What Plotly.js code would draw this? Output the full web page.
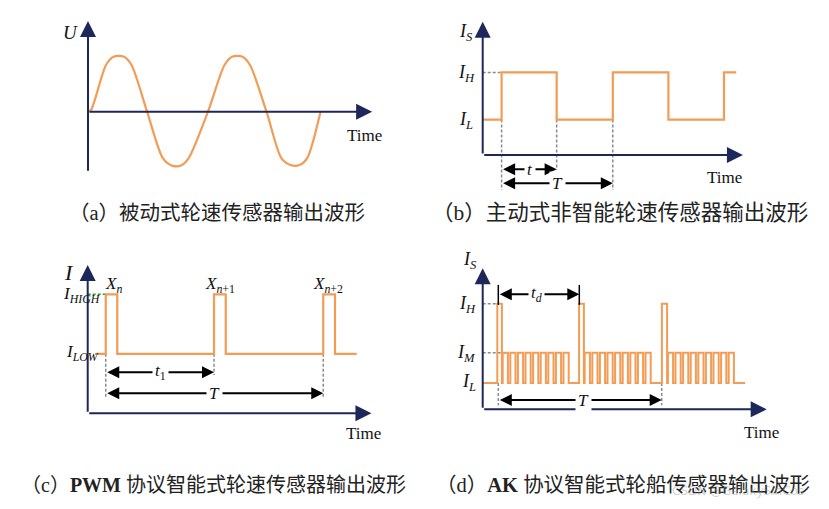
<!DOCTYPE html>
<html><head><meta charset="utf-8">
<script src="https://cdn.plot.ly/plotly-3.0.1.min.js"></script>
<style>html,body{margin:0;padding:0;background:#fff}</style>
</head><body><div id="chart" style="width:829px;height:509px"></div>
<script>
// ---------- data ----------
// (a) passive sensor voltage, read at key points
const aTime = [0,0.1,0.6,0.85,1.2,1.45,1.97,2.5,2.8,3.1,3.35,4.0,4.55,4.8,5.15,5.4,5.95,6.45,6.75,7.05,7.3,7.75];
const aVolt = [0,0.03,0.85,1.0,1.0,0.85,0,-0.85,-0.98,-0.98,-0.85,0,0.85,1.0,1.0,0.85,0,-0.85,-0.97,-0.97,-0.85,0];
// (b) active non-smart sensor, square wave edges (mA levels)
const bTime = [0,0.34,1.33,2.34,3.34,4.34,4.56];
const bLevel = [3,7,3,7,3,7,7];
// (c) PWM protocol sensor
const cTime = [0.67,1.66,2.72,11.62,12.7,21.67,22.75,24.75];
const cLevel = [7,14,7,14,7,14,7,7];
// (d) AK protocol sensor
const dTime = [0,3.65,4.8,5.0,6.3,6.9,8.2,8.8,10.1,10.7,12.0,12.6,13.9,14.5,15.8,16.4,17.7,18.3,19.6,20.2,21.5,
  24.1,25.3,25.5,26.8,27.4,28.7,29.3,30.6,31.2,32.5,33.1,34.4,35.0,36.3,36.9,38.2,38.8,40.1,40.7,42.0,
  44.8,46.1,46.3,47.6,48.2,49.5,50.1,51.4,52.0,53.3,53.9,55.2,55.8,57.1,57.7,59.0,59.6,60.9,61.5,62.8,65.6];
const dLevel = [7,28,7,15,7,15,7,15,7,15,7,15,7,15,7,15,7,15,7,15,7,
  28,7,15,7,15,7,15,7,15,7,15,7,15,7,15,7,15,7,15,7,
  28,7,15,7,15,7,15,7,15,7,15,7,15,7,15,7,15,7,15,7,7];
const captions = ['（a）被动式轮速传感器输出波形','（b）主动式非智能轮速传感器输出波形',
  '（c）<b>PWM</b> 协议智能式轮速传感器输出波形','（d）<b>AK</b> 协议智能式轮船传感器输出波形'];

// ---------- layout helpers ----------
const W=829,H=509;
const NAVY='#1d2759', ORANGE='#f29c55', GRAY='#8a8a8a';
const SERIF='Liberation Serif, Times New Roman, serif';
const CAPF='Liberation Serif, Noto Sans CJK SC, serif';
const panels = {
  a:{X0:88,Y0:111.7,sx:30,sy:55,left:40,right:410,top:5,bottom:195},
  b:{X0:482.7,Y0:155,sx:55.6,sy:11.8,left:430,right:800,top:5,bottom:200},
  c:{X0:87.7,Y0:413.3,sx:10.87,sy:8.5,left:40,right:410,top:250,bottom:450},
  d:{X0:482.7,Y0:409.3,sx:4,sy:3.77,left:430,right:800,top:250,bottom:450}
};
const ids = {a:['x','y'],b:['x2','y2'],c:['x3','y3'],d:['x4','y4']};
const layout = {width:W,height:H,margin:{l:0,r:0,t:0,b:0},showlegend:false,
  paper_bgcolor:'#fff',plot_bgcolor:'rgba(0,0,0,0)',annotations:[],shapes:[]};
Object.keys(panels).forEach((k,i)=>{
  const p=panels[k], n=i===0?'':String(i+1);
  layout['xaxis'+n]={domain:[p.left/W,p.right/W],range:[(p.left-p.X0)/p.sx,(p.right-p.X0)/p.sx],visible:false,fixedrange:true,anchor:'y'+n};
  layout['yaxis'+n]={domain:[1-p.bottom/H,1-p.top/H],range:[(p.Y0-p.bottom)/p.sy,(p.Y0-p.top)/p.sy],visible:false,fixedrange:true,anchor:'x'+n};
});
const A=layout.annotations, S=layout.shapes;
function arrow(k,x,y,ax,ay,color,w,size,both){
  const [xr,yr]=ids[k];
  A.push({xref:xr,yref:yr,axref:xr,ayref:yr,x:x,y:y,ax:ax,ay:ay,text:'',showarrow:true,
    arrowhead:2,arrowsize:size,arrowwidth:w,arrowcolor:color,standoff:0,startstandoff:0,
    arrowside:both?'end+start':'end',startarrowhead:2,startarrowsize:size});
}
function dash(k,x0,y0,x1,y1,color){
  const [xr,yr]=ids[k];
  S.push({type:'line',xref:xr,yref:yr,x0:x0,y0:y0,x1:x1,y1:y1,line:{color:color||GRAY,width:1.5,dash:'3px,2px'},layer:'below'});
}
function solid(k,x0,y0,x1,y1){
  const [xr,yr]=ids[k];
  S.push({type:'line',xref:xr,yref:yr,x0:x0,y0:y0,x1:x1,y1:y1,line:{color:'#000',width:1.5}});
}
function label(xpx,ypx,text,size,opt){
  A.push(Object.assign({xref:'paper',yref:'paper',x:xpx/W,y:1-ypx/H,text:text,showarrow:false,
    xanchor:'center',yanchor:'middle',font:{family:SERIF,size:size,color:'#111'}},opt||{}));
}
function dimLabel(xpx,ypx,text,size){
  label(xpx,ypx,text,size,{bgcolor:'#fff',borderpad:2});
}

// ---------- traces ----------
const traces=[
  {x:aTime,y:aVolt,xaxis:'x',yaxis:'y',mode:'lines',line:{color:ORANGE,width:2.2,shape:'spline',smoothing:0.8},hoverinfo:'skip'},
  {x:bTime,y:bLevel,xaxis:'x2',yaxis:'y2',mode:'lines',line:{color:ORANGE,width:2.2,shape:'hv'},hoverinfo:'skip'},
  {x:cTime,y:cLevel,xaxis:'x3',yaxis:'y3',mode:'lines',line:{color:ORANGE,width:2.2,shape:'hv'},hoverinfo:'skip'},
  {x:dTime,y:dLevel,xaxis:'x4',yaxis:'y4',mode:'lines',line:{color:ORANGE,width:2,shape:'hv'},hoverinfo:'skip'}
];

// ---------- (a) ----------
arrow('a',0,1.65,0,-1.1,NAVY,2,1.6);
arrow('a',9.47,0,0,0,NAVY,2,1.6);
label(70,33,'<i>U</i>',19);
label(364,135,'Time',17);

// ---------- (b) ----------
dash('b',0,7,0.34,7); dash('b',0.34,3,0.34,-2.97); dash('b',1.33,3,1.33,-1.27); dash('b',2.34,3,2.34,-2.97);
arrow('b',0,11.3,0,0,NAVY,2,1.6);
arrow('b',4.68,0,0,0,NAVY,2,1.6);
arrow('b',1.33,-1.21,0.34,-1.21,'#000',2,1.2,true);
arrow('b',2.34,-2.4,0.34,-2.4,'#000',2,1.2,true);
dimLabel(529.5,169.3,'<i>t</i>',17);
dimLabel(557.5,183.3,'<i>T</i>',17);
label(466,32,'<i>I</i><sub><i>S</i></sub>',18);
label(466,73,'<i>I</i><sub><i>H</i></sub>',18);
label(466,120,'<i>I</i><sub><i>L</i></sub>',18);
label(724,178,'Time',17);

// ---------- (c) ----------
dash('c',0,14,1.66,14,'#2ca02c');
dash('c',1.66,7,1.66,1.76); dash('c',11.62,7,11.62,4.5); dash('c',21.67,7,21.67,1.76);
arrow('c',0,17.45,0,0,NAVY,2,1.6);
arrow('c',26.1,0,0,0,NAVY,2,1.6);
arrow('c',11.62,4.82,1.66,4.82,'#000',2,1.2,true);
arrow('c',21.67,2.35,1.66,2.35,'#000',2,1.2,true);
dimLabel(160,372.3,'<i>t</i><sub>1</sub>',17);
dimLabel(214.5,393.3,'<i>T</i>',17);
label(69,272,'<i>I</i>',22);
label(103,295,'<i>I</i><sub><i>HIGH</i></sub>',17,{xanchor:'right'});
label(101,353,'<i>I</i><sub><i>LOW</i></sub>',17,{xanchor:'right'});
label(113,285,'<i>X</i><sub><i>n</i></sub>',17);
label(220,285,'<i>X</i><sub><i>n</i>+1</sub>',17);
label(328,285,'<i>X</i><sub><i>n</i>+2</sub>',17);
label(363,433,'Time',17);

// ---------- (d) ----------
dash('d',0,28,3.65,28); dash('d',0,15,6,15);
dash('d',3.9,7,3.9,1.1); dash('d',44.75,7,44.75,1.1);
arrow('d',0,37.4,0,0,NAVY,2,1.6);
arrow('d',71,0,0,0,NAVY,2,1.6);
solid('d',3.9,27.7,3.9,33.0); solid('d',24.15,27.7,24.15,33.0);
arrow('d',24.15,30.5,3.9,30.5,'#000',2,1.2,true);
arrow('d',44.75,2.47,3.9,2.47,'#000',2,1.2,true);
dimLabel(536.7,294.3,'<i>t</i><sub><i>d</i></sub>',17);
dimLabel(583,400,'<i>T</i>',17);
label(470,260,'<i>I</i><sub><i>S</i></sub>',18);
label(478,304,'<i>I</i><sub><i>H</i></sub>',18,{xanchor:'right'});
label(478,353,'<i>I</i><sub><i>M</i></sub>',18,{xanchor:'right'});
label(478,382,'<i>I</i><sub><i>L</i></sub>',18,{xanchor:'right'});
label(761,432,'Time',17);

// ---------- captions ----------
const capPos=[[217,213],[620,213],[213.5,485],[623,485]];
const capSize=[20.5,21.5,20,20.5];
captions.forEach((c,i)=>{
  A.push({xref:'paper',yref:'paper',x:capPos[i][0]/W,y:1-capPos[i][1]/H,text:c,showarrow:false,
    xanchor:'center',yanchor:'middle',font:{family:CAPF,size:capSize[i],color:'#222'}});
});
A.push({xref:'paper',yref:'paper',x:738/W,y:1-491/H,text:'CSDN @GalaxySinCos',showarrow:false,
  xanchor:'center',yanchor:'middle',font:{family:'DejaVu Sans, sans-serif',size:12,color:'rgba(150,150,150,0.45)'}});

Plotly.newPlot('chart',traces,layout,{staticPlot:true,displayModeBar:false});
</script></body></html>
